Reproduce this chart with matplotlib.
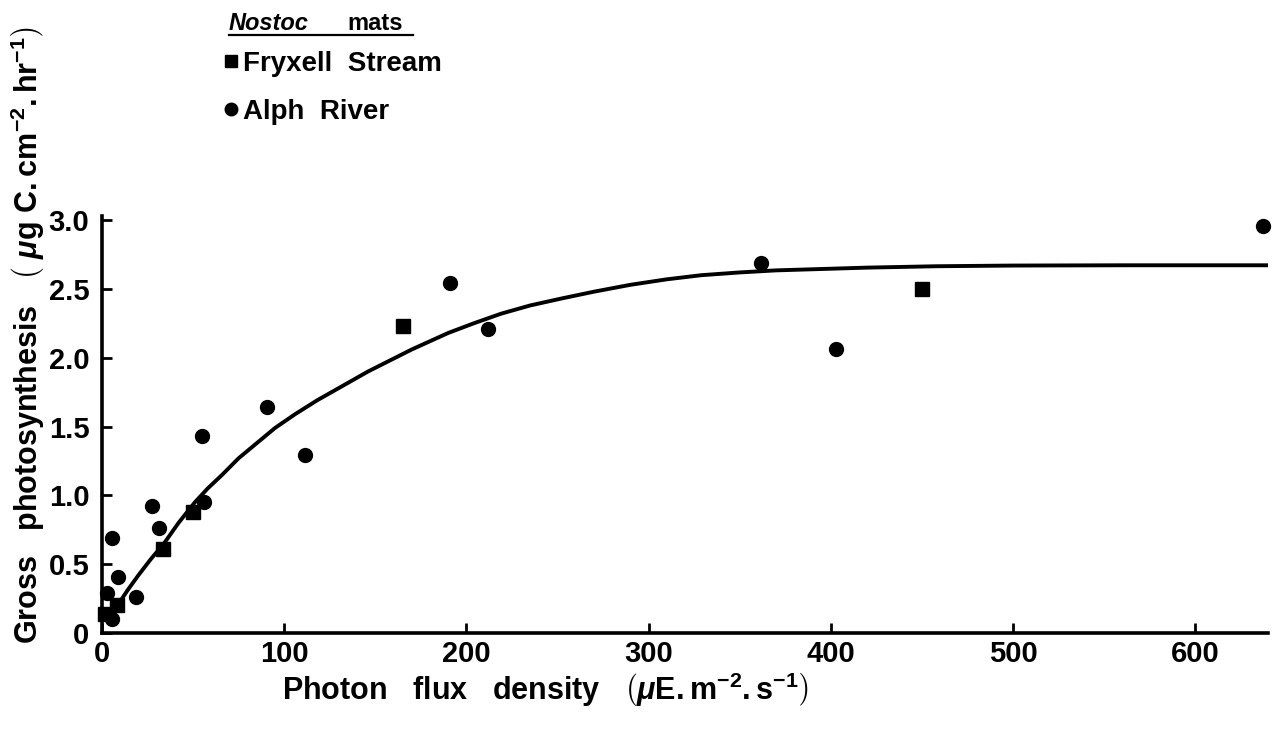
import matplotlib
matplotlib.use("Agg")
import matplotlib.pyplot as plt
from matplotlib.lines import Line2D

plt.rcParams['font.family'] = ['Liberation Sans', 'DejaVu Sans']
plt.rcParams['font.weight'] = 'bold'
plt.rcParams['mathtext.fontset'] = 'custom'
plt.rcParams['mathtext.rm'] = 'Liberation Sans:bold'
plt.rcParams['mathtext.it'] = 'Liberation Sans:italic:bold'
plt.rcParams['mathtext.bf'] = 'Liberation Sans:bold'

# Fryxell Stream (squares)
fryxell_x = [1.5, 8, 33.5, 50, 165, 450]
fryxell_y = [0.14, 0.20, 0.61, 0.88, 2.23, 2.50]

# Alph River (circles)
alph_x = [2.7, 5.5, 5.5, 8.8, 18.7, 27.5, 31.3, 55, 56, 90.7, 111.5, 191, 212, 361.5, 403, 637]
alph_y = [0.29, 0.69, 0.10, 0.41, 0.26, 0.92, 0.76, 1.43, 0.95, 1.64, 1.29, 2.54, 2.21, 2.69, 2.06, 2.96]

# fitted curve
curve_x = [3, 8, 14, 20, 27, 34, 42, 51, 58, 66, 75, 85, 95, 106, 118, 130, 146, 158, 170, 180, 190,
           204, 219, 235, 252, 270, 290, 310, 329, 350, 370, 395, 420, 458, 500, 560, 640]
curve_y = [0.10, 0.19, 0.31, 0.42, 0.54, 0.65, 0.80, 0.95, 1.05, 1.15, 1.27, 1.38, 1.49, 1.59, 1.69,
           1.78, 1.90, 1.98, 2.06, 2.12, 2.18, 2.25, 2.32, 2.38, 2.43, 2.48, 2.53, 2.57, 2.60, 2.62,
           2.635, 2.645, 2.655, 2.665, 2.67, 2.672, 2.672]

x_ticks = [0, 100, 200, 300, 400, 500, 600]
y_ticks = [0, 0.5, 1.0, 1.5, 2.0, 2.5, 3.0]
y_ticklabels = ["0", "0.5", "1.0", "1.5", "2.0", "2.5", "3.0"]

fig = plt.figure(figsize=(12.75, 7.38), dpi=100)
ax = fig.add_axes([0.08, 0.1423, 0.9145, 0.565])

ax.plot(curve_x, curve_y, color="black", lw=2.8, solid_capstyle="round", solid_joinstyle="round")
sq, = ax.plot(fryxell_x, fryxell_y, "s", ms=10, color="black", clip_on=False,
              label="Fryxell  Stream")
ci, = ax.plot(alph_x, alph_y, "o", ms=10, color="black", clip_on=False,
              label="Alph  River")

ax.set_xlim(0, 640)
ax.set_ylim(0, 3.03)
ax.set_xticks(x_ticks)
ax.set_yticks(y_ticks)
ax.set_yticklabels(y_ticklabels)

for s in ["top", "right"]:
    ax.spines[s].set_visible(False)
for s in ["left", "bottom"]:
    ax.spines[s].set_linewidth(2.6)
ax.tick_params(direction="in", length=7, width=2, labelsize=21)
ax.tick_params(axis="x", pad=5)
ax.tick_params(axis="y", pad=9)

# legend block
fig.text(229 / 1275, 1 - 30 / 738, "Nostoc", style="italic", fontsize=17, va="baseline")
fig.text(347 / 1275, 1 - 30 / 738, "mats", fontsize=17, va="baseline")
fig.add_artist(Line2D([229 / 1275, 413 / 1275], [1 - 35 / 738, 1 - 35 / 738],
                      color="black", lw=1.6, transform=fig.transFigure))
ax.legend(handles=[sq, ci], loc="upper left", bbox_to_anchor=(224 / 1275, 1 - 51 / 738),
          bbox_transform=fig.transFigure, frameon=False, fontsize=20,
          handlelength=0.5, handletextpad=0.2, markerscale=0.9, labelspacing=0.8,
          borderaxespad=0, borderpad=0)

fig.text(0.022, 0.545,
         r"Gross   photosynthesis   $\left(\ \mathit{\mu}\mathrm{g\ C.cm^{-2}.hr^{-1}}\right)$",
         rotation=90, ha="center", va="center", fontsize=22)
fig.text(0.428, 0.065,
         r"Photon   flux   density   $\left(\mathit{\mu}\mathrm{E.m^{-2}.s^{-1}}\right)$",
         ha="center", va="center", fontsize=22)

fig.savefig("out.png", dpi=100)
